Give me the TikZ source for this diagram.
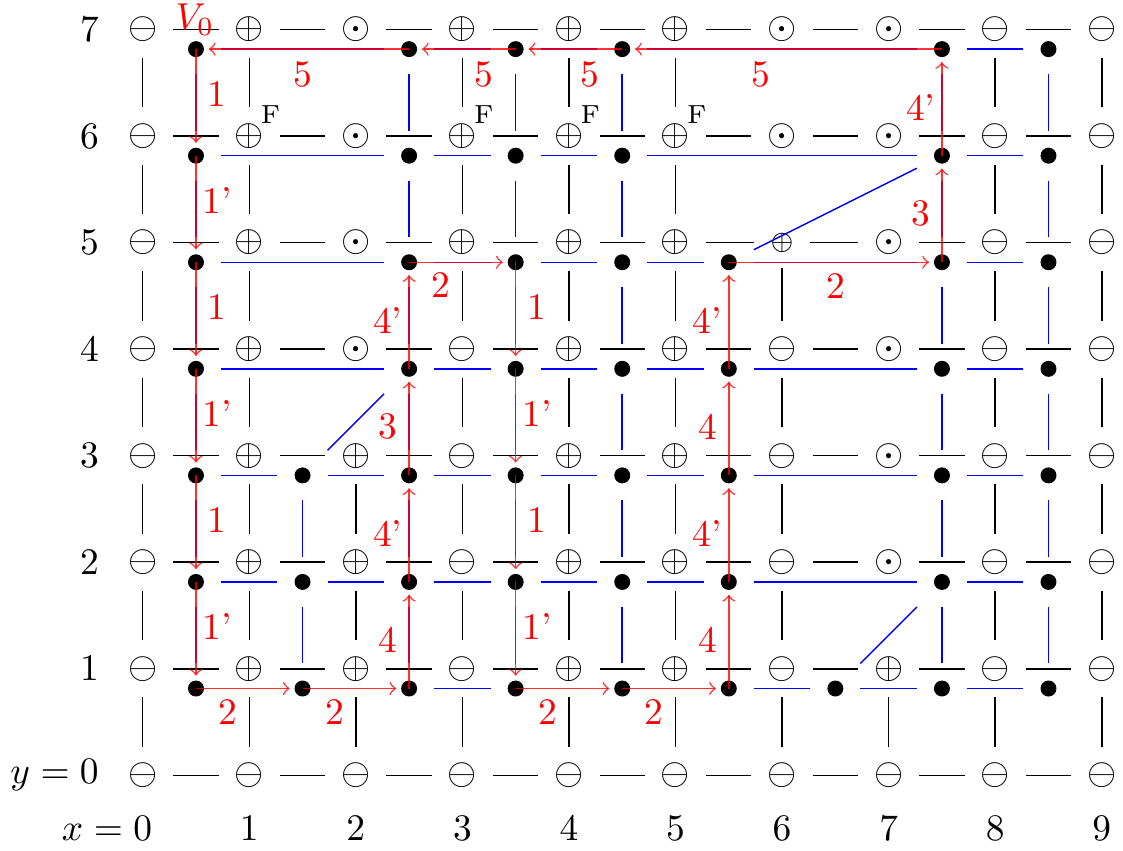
\documentclass[tikz,border=0pt]{standalone}
\usepackage{amsmath}
\usepackage{amssymb}
\usetikzlibrary{arrows,positioning}
\newcommand\symm{$\ominus$}
\newcommand\symp{$\oplus$}
\newcommand\symo{$\odot$}
\newcommand\syms{$\scriptstyle\oplus$}
\begin{document}
\begin{tikzpicture}[>=to,
  site/.style={inner sep=4.3pt,outer sep=0pt},
  dot/.style={minimum size=.47cm,inner sep=0pt,outer sep=0pt,
    path picture={\fill (path picture bounding box.center) circle (.075);}},
  dual/.style={blue},
  walk/.style={->,red,draw opacity=.8,shorten >=.12cm},
  lbl/.style={red,inner sep=1pt},
  ftag/.style={font=\scriptsize,inner sep=0pt}]
 \useasboundingbox (-1.339,-.701) rectangle (9.199,7.276);
 % sites
 \foreach \sy [count=\i from 0] in {m,p,o,p,p,p,o,o,m,m}
   \node[site] (s\i7) at (\i,7) {\csname sym\sy\endcsname};
 \foreach \sy [count=\i from 0] in {m,p,o,p,p,p,o,o,m,m}
   \node[site] (s\i6) at (\i,6) {\csname sym\sy\endcsname};
 \foreach \sy [count=\i from 0] in {m,p,o,p,p,p,s,o,m,m}
   \node[site] (s\i5) at (\i,5) {\csname sym\sy\endcsname};
 \foreach \sy [count=\i from 0] in {m,p,o,m,p,p,m,o,m,m}
   \node[site] (s\i4) at (\i,4) {\csname sym\sy\endcsname};
 \foreach \sy [count=\i from 0] in {m,p,p,m,p,p,m,o,m,m}
   \node[site] (s\i3) at (\i,3) {\csname sym\sy\endcsname};
 \foreach \sy [count=\i from 0] in {m,p,p,m,p,p,m,o,m,m}
   \node[site] (s\i2) at (\i,2) {\csname sym\sy\endcsname};
 \foreach \sy [count=\i from 0] in {m,p,p,m,p,p,m,p,m,m}
   \node[site] (s\i1) at (\i,1) {\csname sym\sy\endcsname};
 \foreach \i in {0,...,9}
   \node[site] (s\i0) at (\i,0) {\symm};
 \foreach \i in {1,3,4,5}
   \node[ftag] (f\i) at (\i+.2,6.2) {F};
 % axes
 \foreach \j in {1,...,7}
   \node (r\j) at (-.5,\j) {$\j$};
 \node (r0) at (-.5,0) {\llap{$y={}$}$0$};
 \foreach \i in {1,...,9}
   \node (c\i) at (\i,-.5) {$\i$};
 \node (c0) at (0,-.5) {\llap{$x={}$}$0$};
 % lattice
 \foreach \j in {0,...,7}
   \foreach \i/\k in {0/1,1/2,2/3,3/4,4/5,5/6,6/7,7/8,8/9}
     \draw (s\i\j)--(s\k\j);
 \foreach \i in {0,1,3,4,5,8,9}
   \foreach \j/\k in {7/6,6/5,5/4,4/3,3/2,2/1,1/0}
     \draw (s\i\j)--(s\i\k);
 \foreach \j/\k in {3/2,2/1,1/0}
   \draw (s2\j)--(s2\k);
 \foreach \j/\k in {5/4,4/3,3/2,2/1,1/0}
   \draw (s6\j)--(s6\k);
 \draw (s71)--(s70);
 % dual sites
 \foreach \i in {0,2,3,4,7,8} \node[dot] (d\i7) at (\i+.5,6.815) {};
 \foreach \i in {0,2,3,4,7,8} \node[dot] (d\i6) at (\i+.5,5.815) {};
 \foreach \i in {0,2,3,4,5,7,8} \node[dot] (d\i5) at (\i+.5,4.815) {};
 \foreach \i in {0,2,3,4,5,7,8} \node[dot] (d\i4) at (\i+.5,3.815) {};
 \foreach \i in {0,1,2,3,4,5,7,8} \node[dot] (d\i3) at (\i+.5,2.815) {};
 \foreach \i in {0,1,2,3,4,5,7,8} \node[dot] (d\i2) at (\i+.5,1.815) {};
 \foreach \i in {0,...,8} \node[dot] (d\i1) at (\i+.5,.815) {};
 % dual bonds
 \foreach \a/\b in {0/2,2/3,3/4,4/7,7/8} \draw[dual] (d\a7)--(d\b7);
 \foreach \a/\b in {0/2,2/3,3/4,4/7,7/8} \draw[dual] (d\a6)--(d\b6);
 \foreach \a/\b in {0/2,2/3,3/4,4/5,5/7,7/8} \draw[dual] (d\a5)--(d\b5);
 \foreach \a/\b in {0/2,2/3,3/4,4/5,5/7,7/8} \draw[dual] (d\a4)--(d\b4);
 \foreach \a/\b in {0/1,1/2,2/3,3/4,4/5,5/7,7/8} \draw[dual] (d\a3)--(d\b3);
 \foreach \a/\b in {0/1,1/2,2/3,3/4,4/5,5/7,7/8} \draw[dual] (d\a2)--(d\b2);
 \foreach \a/\b in {2/3,5/6,6/7,7/8} \draw[dual] (d\a1)--(d\b1);
 \foreach \i in {0,2,3,4,7,8}
   \foreach \j/\k in {7/6,6/5,5/4,4/3,3/2,2/1}
     \draw[dual] (d\i\j)--(d\i\k);
 \foreach \j/\k in {3/2,2/1} \draw[dual] (d1\j)--(d1\k);
 \draw[dual] (d13)--(d24);
 \draw[dual] (d55)--(d76);
 \draw[dual] (d61)--(d72);
 % walk
 \node[lbl,inner sep=0pt] (v0) at (.49,7.09) {$V_0$};
 \draw[walk] (d07.center)--(d06.center) node[lbl,pos=.42,xshift=.2cm] {1};
 \draw[walk] (d06.center)--(d05.center) node[lbl,pos=.42,xshift=.2cm] {1'};
 \draw[walk] (d05.center)--(d04.center) node[lbl,pos=.42,xshift=.2cm] {1};
 \draw[walk] (d04.center)--(d03.center) node[lbl,pos=.42,xshift=.2cm] {1'};
 \draw[walk] (d03.center)--(d02.center) node[lbl,pos=.42,xshift=.2cm] {1};
 \draw[walk] (d02.center)--(d01.center) node[lbl,pos=.42,xshift=.2cm] {1'};
 \draw[walk] (d01.center)--(d11.center) node[lbl,pos=.3,yshift=-.225cm] {2};
 \draw[walk] (d11.center)--(d21.center) node[lbl,pos=.3,yshift=-.225cm] {2};
 \draw[walk] (d21.center)--(d22.center) node[lbl,pos=.455,xshift=-.2cm] {4};
 \draw[walk] (d22.center)--(d23.center) node[lbl,pos=.455,xshift=-.2cm] {4'};
 \draw[walk] (d23.center)--(d24.center) node[lbl,pos=.455,xshift=-.2cm] {3};
 \draw[walk] (d24.center)--(d25.center) node[lbl,pos=.455,xshift=-.2cm] {4'};
 \draw[walk] (d25.center)--(d35.center) node[lbl,pos=.3,yshift=-.215cm] {2};
 \draw[walk] (d35.center)--(d34.center) node[lbl,pos=.42,xshift=.2cm] {1};
 \draw[walk] (d34.center)--(d33.center) node[lbl,pos=.42,xshift=.2cm] {1'};
 \draw[walk] (d33.center)--(d32.center) node[lbl,pos=.42,xshift=.2cm] {1};
 \draw[walk] (d32.center)--(d31.center) node[lbl,pos=.42,xshift=.2cm] {1'};
 \draw[walk] (d31.center)--(d41.center) node[lbl,pos=.3,yshift=-.225cm] {2};
 \draw[walk] (d41.center)--(d51.center) node[lbl,pos=.3,yshift=-.225cm] {2};
 \draw[walk] (d51.center)--(d52.center) node[lbl,pos=.455,xshift=-.2cm] {4};
 \draw[walk] (d52.center)--(d53.center) node[lbl,pos=.455,xshift=-.2cm] {4'};
 \draw[walk] (d53.center)--(d54.center) node[lbl,pos=.455,xshift=-.2cm] {4};
 \draw[walk] (d54.center)--(d55.center) node[lbl,pos=.455,xshift=-.2cm] {4'};
 \draw[walk] (d55.center)--(d75.center) node[lbl,pos=.5,yshift=-.225cm] {2};
 \draw[walk] (d75.center)--(d76.center) node[lbl,pos=.455,xshift=-.2cm] {3};
 \draw[walk] (d76.center)--(d77.center) node[lbl,pos=.455,xshift=-.2cm] {4'};
 \draw[walk] (d77.center)--(d47.center) node[lbl,pos=.567,yshift=-.235cm] {5};
 \draw[walk] (d47.center)--(d37.center) node[lbl,pos=.3,yshift=-.235cm] {5};
 \draw[walk] (d37.center)--(d27.center) node[lbl,pos=.3,yshift=-.235cm] {5};
 \draw[walk] (d27.center)--(d07.center) node[lbl,pos=.5,yshift=-.235cm] {5};
\end{tikzpicture}
\end{document}
